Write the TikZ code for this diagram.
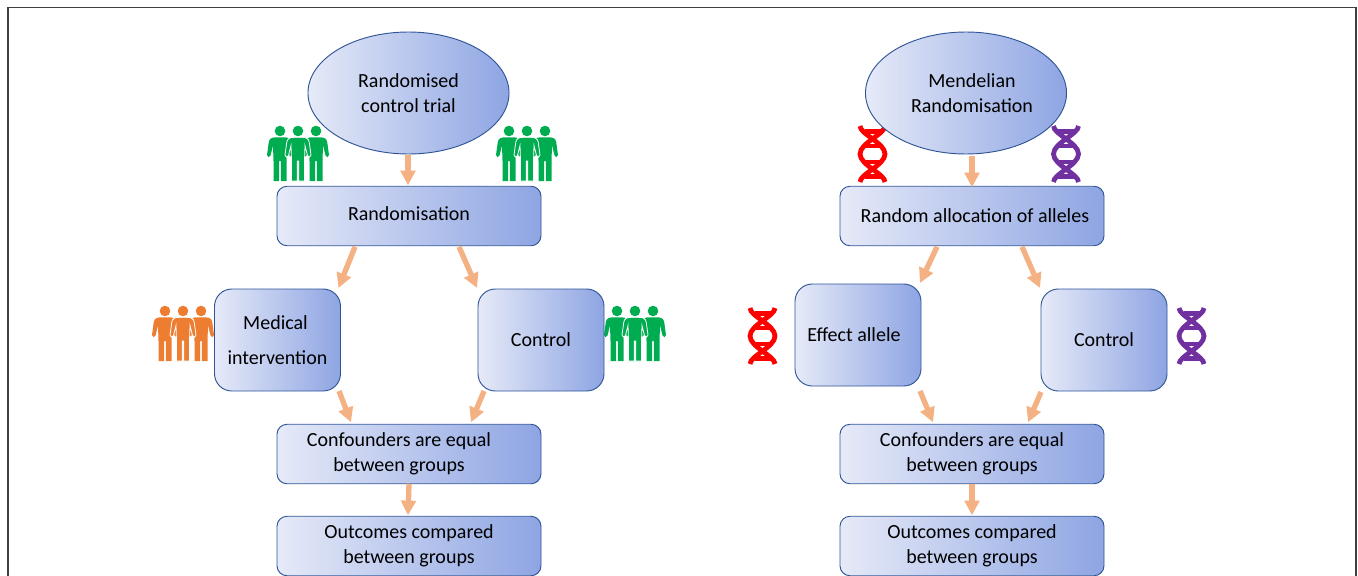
\documentclass[tikz,border=0pt]{standalone}
\usepackage{fontspec}
\setmainfont{Carlito}
\usetikzlibrary{arrows.meta,calc,shapes.geometric}
\definecolor{boxl}{HTML}{E6EAF8}
\definecolor{boxr}{HTML}{8EA5E3}
\definecolor{edgeb}{HTML}{2F5597}
\definecolor{arrowo}{HTML}{F4B183}
\definecolor{pgreen}{HTML}{00AC50}
\definecolor{porange}{HTML}{ED7D31}
\definecolor{dnared}{HTML}{FF0000}
\definecolor{dnapurple}{HTML}{7030A0}
\newcommand{\nudge}[2]{\hspace*{#1}#2\hspace*{-#1}}
\newcommand{\dn}[1]{\raisebox{-0.75pt}{#1}}
\newcommand{\bodypath}{(-4,6.3) .. controls (-8,6.3) and (-10.5,7.5) .. (-11.2,11) -- (-13,24) .. controls (-13.2,26.5) and (-10,27) .. (-9.5,24.5) -- (-7,14.5) -- (-6.5,30) -- (-6.5,50) -- (-0.8,50) -- (-0.8,30) -- (0.8,30) -- (0.8,50) -- (6.5,50) -- (6.5,30) -- (7,14.5) -- (9.5,24.5) .. controls (10,27) and (13.2,26.5) .. (13,24) -- (11.2,11) .. controls (10.5,7.5) and (8,6.3) .. (4,6.3) -- cycle}
\tikzset{
  x=0.75pt,y=-0.75pt,
  boxbase/.style={draw=edgeb,line width=0.7pt,left color=boxl,right color=boxr,shading angle=90,
    inner sep=0pt,outer sep=0pt,align=center,font=\fontsize{15pt}{19pt}\selectfont,text=black},
  widebox/.style={boxbase,rectangle,rounded corners=7.5pt,minimum width=198pt,minimum height=44.6pt},
  sqbox/.style={boxbase,rectangle,rounded corners=13pt,minimum width=94.5pt,minimum height=76.5pt},
  oval/.style={boxbase,ellipse,minimum width=150.8pt,minimum height=91.5pt},
  flow/.style={draw=arrowo,line width=4pt,-{Triangle[length=11pt,width=11pt]},shorten >=0pt},
  pics/person/.style={code={
    \fill[#1] (0,0) circle (5.3);
    \fill[#1] \bodypath;
  }},
  pics/crowd/.style={code={
    \pic at (-18,0) {person=#1};
    \pic at (18,0) {person=#1};
    \fill[#1] (0,0) circle (5.3);
    \fill[#1,draw=white,line width=0.6pt] \bodypath;
  }},
  pics/helix/.style={code={
    \begin{scope}[draw=#1,line width=3.6pt,line cap=butt]
      \draw (-12.5,0) .. controls (-12.5,8) and (12.5,17) .. (12.5,28) .. controls (12.5,39) and (-12.5,48) .. (-12.5,56);
      \draw (12.5,0) .. controls (12.5,8) and (-12.5,17) .. (-12.5,28) .. controls (-12.5,39) and (12.5,48) .. (12.5,56);
      \draw (-8,5.5) -- (8,5.5);
      \draw (-9,20) -- (9,20);
      \draw (-9,36) -- (9,36);
      \draw (-8,50.5) -- (8,50.5);
    \end{scope}
  }},
}
\begin{document}
\begin{tikzpicture}
\useasboundingbox (0,0) rectangle (1358,575);
\begin{scope}
\clip (0,0) rectangle (1358,575);
\draw[draw=black!75,line width=1pt] (8,600) -- (8,7.5) -- (1356,7.5) -- (1356,600);

\pic at (298,131) {crowd=pgreen};
\pic at (527,131) {crowd=pgreen};
\pic at (183,311) {crowd=porange};
\pic at (635,311) {crowd=pgreen};
\pic at (872.5,126) {helix=dnared};
\pic at (1066,126) {helix=dnapurple};
\pic at (762.5,308) {helix=dnared};
\pic at (1191.5,308) {helix=dnapurple};

\node[oval] (rct) at (408.5,93) {Randomised\\control trial};
\node[widebox] (rand) at (409,216) {\raisebox{3pt}{Randomisation}};
\node[sqbox] (med) at (277.5,340) {\nudge{-1.5pt}{Medical}\\[7.2pt]intervention};
\node[sqbox] (ctl) at (541,340) {Control};
\node[widebox] (conf) at (409,454) {\dn{\nudge{-7.5pt}{Confounders are equal}}\\\dn{\nudge{-7.5pt}{between groups}}};
\node[widebox] (out) at (409,546) {\dn{Outcomes compared}\\\dn{between groups}};

\node[oval] (mr) at (966,93) {\nudge{4.5pt}{Mendelian}\\\nudge{4.5pt}{Randomisation}};
\node[widebox] (alloc) at (972,216) {\nudge{2.2pt}{Random allocation of alleles}};
\node[sqbox] (eff) at (858,335) {\nudge{-3pt}{Effect allele}};
\node[sqbox] (ctr) at (1104,340) {Control};
\node[widebox] (confr) at (972,454) {\dn{Confounders are equal}\\\dn{between groups}};
\node[widebox] (outr) at (972,546) {\dn{Outcomes compared}\\\dn{between groups}};

\draw[flow] ([shift={(-0.5,1)}]rct.south) -- ([shift={(-1,-1)}]rand.north);
\draw[flow] ([shift={(-54,1)}]rand.south) -- ([shift={(61,-1)}]med.north);
\draw[flow] ([shift={(50,1)}]rand.south) -- ([shift={(-64,-1)}]ctl.north);
\draw[flow] ([shift={(61.5,0)}]med.south) -- ([shift={(-58,-2)}]conf.north);
\draw[flow] ([shift={(-57,0)}]ctl.south) -- ([shift={(62,-2)}]conf.north);
\draw[flow] (conf.south) -- ([shift={(-1,-1)}]out.north);

\draw[flow] ([shift={(6,2)}]mr.south) -- ([shift={(0,1)}]alloc.north);
\draw[flow] ([shift={(-35,1)}]alloc.south) -- ([shift={(62,-1)}]eff.north);
\draw[flow] ([shift={(50,1)}]alloc.south) -- ([shift={(-64,-1)}]ctr.north);
\draw[flow] ([shift={(62,5)}]eff.south) -- ([shift={(-39,-2)}]confr.north);
\draw[flow] ([shift={(-63,1)}]ctr.south) -- ([shift={(56,-2)}]confr.north);
\draw[flow] (confr.south) -- ([shift={(0,-1)}]outr.north);
\end{scope}
\end{tikzpicture}
\end{document}
